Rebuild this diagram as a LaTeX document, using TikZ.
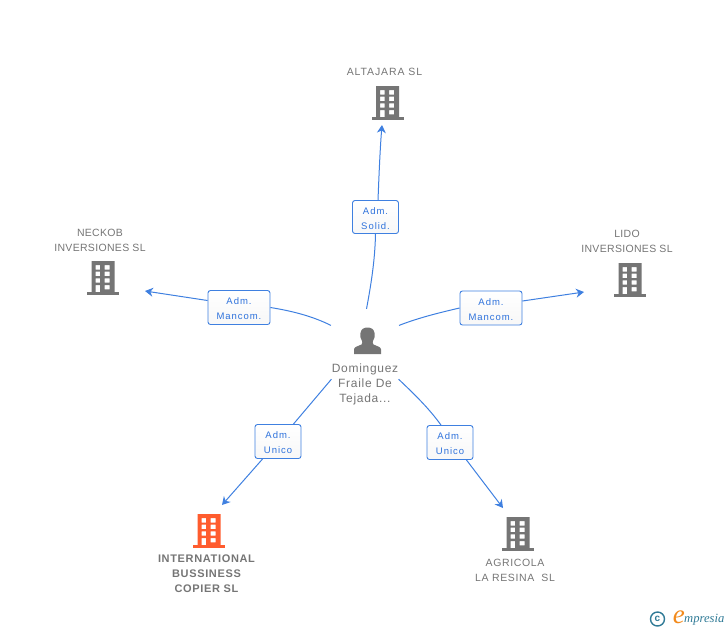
\documentclass[tikz,border=0pt]{standalone}
\usepackage{fontspec}
\setmainfont{Liberation Sans}
\newfontfamily\nametext[LetterSpace=6]{Liberation Sans}
\newfontfamily\invtext[LetterSpace=3]{Liberation Sans}
\newfontfamily\alttext[LetterSpace=8.5]{Liberation Sans}
\newfontfamily\boldname[LetterSpace=6]{Liberation Sans}
\newfontfamily\badgetext[LetterSpace=10]{Liberation Sans}
\newfontfamily\logotext{Liberation Serif}
\usetikzlibrary{arrows.meta}
\definecolor{linkblue}{HTML}{3F80E0}
\definecolor{badgeink}{HTML}{2E72DC}
\definecolor{icongray}{HTML}{757575}
\definecolor{textgray}{HTML}{757575}
\definecolor{iconorange}{HTML}{FF5C2E}
\definecolor{logoteal}{HTML}{2F7A96}
\definecolor{logoorange}{HTML}{F28A1C}
\newcommand{\bup}{\rule{0pt}{10pt}}
\tikzset{
  link/.style={draw=linkblue,line width=1pt},
  linkarrow/.style={link,-{Stealth[length=8pt,width=9pt]}},
  badge/.style={draw=linkblue,line width=0.9pt,rounded corners=2.5pt,top color=white,bottom color=black!3,
    inner sep=0pt,align=center,text=badgeink,font=\badgetext\fontsize{9.5}{15}\selectfont},
  entity/.style={text=textgray,align=center,inner sep=0pt,font=\nametext\fontsize{10.5}{15}\selectfont},
  entitybold/.style={text=textgray,align=center,inner sep=0pt,font=\boldname\bfseries\fontsize{11}{15}\selectfont},
  iconbox/.style={minimum width=32pt,minimum height=34pt,inner sep=0pt},
  hub/.style={circle,minimum size=86pt,inner sep=0pt}
}
\newcommand{\bldg}[4]{% name, centre x, top y, colour
  \fill[#4,even odd rule]
    (#2-11.5,#3) rectangle (#2+11.5,#3+31)
    (#2-7.5,#3+4) rectangle (#2-3,#3+8.5) (#2+1.7,#3+4) rectangle (#2+6.5,#3+8.5)
    (#2-7.5,#3+10.7) rectangle (#2-3,#3+15) (#2+1.7,#3+10.7) rectangle (#2+6.5,#3+15)
    (#2-7.5,#3+17.3) rectangle (#2-3,#3+21.7) (#2+1.7,#3+17.3) rectangle (#2+6.5,#3+21.7)
    (#2-7.5,#3+24) rectangle (#2-3,#3+31) (#2+1.7,#3+24) rectangle (#2+6.5,#3+28.3);
  \fill[#4] (#2-16,#3+31) rectangle (#2+16,#3+33.5);
  \node[iconbox] (#1) at (#2,#3+17) {};
}
\begin{document}
\begin{tikzpicture}[x=1pt,y=-1pt]
\useasboundingbox (0,0) rectangle (728,630);
% buildings
\bldg{altajara}{387.5}{86}{icongray}
\bldg{neckob}{103}{261}{icongray}
\bldg{lido}{630}{263}{icongray}
\bldg{intl}{209}{514}{iconorange}
\bldg{agricola}{518}{517}{icongray}
% names
\node[entity,font=\alttext\fontsize{10.5}{15}\selectfont] (altajaratxt) at (384.5,72) {ALTAJARA SL};
\node[entity,font=\invtext\fontsize{10.5}{15}\selectfont] (neckobtxt) at (100,240) {NECKOB\\INVERSIONES SL};
\node[entity,font=\invtext\fontsize{10.5}{15}\selectfont] (lidotxt) at (627,241) {LIDO\\INVERSIONES SL};
\node[entitybold] (intltxt) at (206.5,574) {INTERNATIONAL\\BUSSINESS\\COPIER SL};
\node[entity] (agricolatxt) at (515,570) {AGRICOLA\\LA RESINA\ \ SL};
% person
\node[hub] (person) at (365,352) {};
\fill[icongray] (354,354) -- (354,349.5) .. controls (354,347) and (357,346.5) .. (361.5,344.5)
  .. controls (362.5,343.5) and (362.5,342) .. (362,341)
  .. controls (360,338.5) and (360,335.5) .. (360.5,333)
  .. controls (361,329) and (364,327.5) .. (367.5,327.5)
  .. controls (371,327.5) and (374,329) .. (374.5,333)
  .. controls (375,335.5) and (375,338.5) .. (373,341)
  .. controls (372.5,342) and (372.5,343.5) .. (373.5,344.5)
  .. controls (378,346.5) and (381,347) .. (381,349.5) -- (381,354) -- cycle;
\node[entity,font=\nametext\fontsize{12}{15}\selectfont] (persontxt) at (365,384.5) {Dominguez\\Fraile De\\Tejada...};
% badges
\node[badge,minimum width=46pt,minimum height=33pt] (b1) at (375.5,217) {\bup Adm.\\Solid.};
\node[badge,minimum width=62pt,minimum height=34pt] (b2) at (239,307.5) {\bup Adm.\\Mancom.};
\node[badge,minimum width=62pt,minimum height=34pt] (b3) at (491,308) {\bup Adm.\\Mancom.};
\node[badge,minimum width=46pt,minimum height=34pt] (b4) at (278,441.5) {\bup Adm.\\Unico};
\node[badge,minimum width=46pt,minimum height=34pt] (b5) at (450,442.5) {\bup Adm.\\Unico};
% free ends near the icons
\coordinate (t1) at (382,125);
\coordinate (t2) at (145,291);
\coordinate (t3) at (584,292);
\coordinate (t4) at (222,505);
\coordinate (t5) at (503,508);
% connectors
\draw[link] (person.88) .. controls (371,285) and (375,260) .. (b1.south);
\draw[linkarrow] (b1.north) ++(2.5,0) .. controls (379,175) and (380,150) .. (t1);
\draw[link] (person.142) .. controls (312,316) and (292,311) .. (b2.east);
\draw[linkarrow] (b2.west) ++(0,-7) -- (t2);
\draw[link] (person.38) .. controls (418,318) and (438,313) .. (b3.west);
\draw[linkarrow] (b3.east) ++(0,-7) -- (t3);
\draw[link] (person.219) -- ([xshift=-8pt]b4.north east);
\draw[linkarrow] (b4.south west) ++(8,0) -- (t4);
\draw[link] (person.-39) .. controls (412,392) and (428,407) .. ([xshift=-9pt]b5.north);
\draw[linkarrow] (b5.south east) ++(-7,0) -- (t5);
% logo
\node[draw=logoteal,line width=1.4pt,circle,minimum size=14pt,inner sep=0pt,text=logoteal,font=\bfseries\fontsize{10}{10}\selectfont] (copyr) at (657.5,619) {c};
\node[inner sep=0pt,text=logoteal,font=\logotext\itshape\fontsize{12.6}{13}\selectfont,anchor=west] (logo) at (684,620) {mpresia};
\node[inner sep=0pt,text=logoorange,font=\logotext\itshape\fontsize{27}{27}\selectfont,anchor=east] (logoe) at (685,617) {e};
\end{tikzpicture}
\end{document}
